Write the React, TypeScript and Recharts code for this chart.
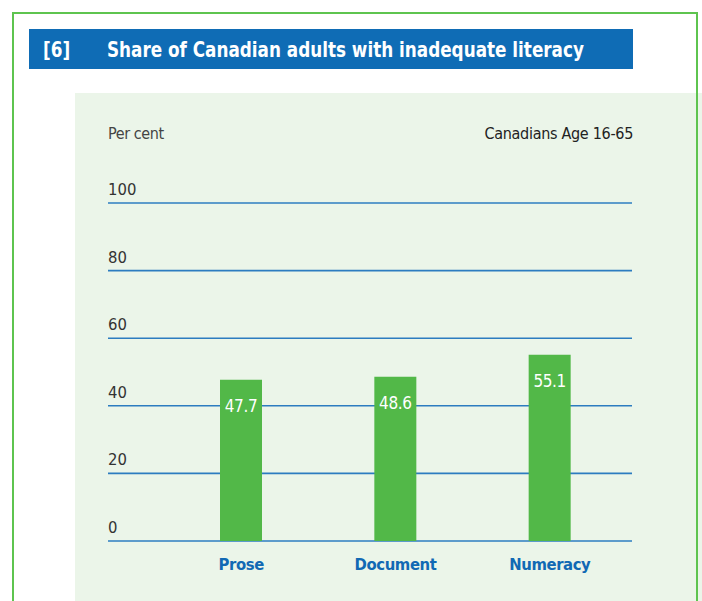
import { BarChart, Bar, XAxis, YAxis, CartesianGrid, LabelList } from 'recharts';

const categories = ['Prose', 'Document', 'Numeracy'];
const shares = [47.7, 48.6, 55.1];
const yTicks = [0, 20, 40, 60, 80, 100];

const data = categories.map((name, i) => ({ name, value: shares[i] }));

const FONT = '"Liberation Sans Narrow", "DejaVu Sans Condensed", "Liberation Sans", sans-serif';
const BLUE = '#1169b4';
const GREEN = '#52b848';
const PLOT_LEFT = 108;

// y-axis labels sit above the grid line, left aligned with it
const YTick = (props: any) => {
  const { y, payload } = props;
  return (
    <text x={PLOT_LEFT} y={y - 8} fill="#333" fontSize={16.5} fontFamily={FONT} textAnchor="start">
      {payload.value}
    </text>
  );
};

const XTick = (props: any) => {
  const { x, y, payload } = props;
  return (
    <text
      x={x}
      y={y + 16}
      fill={BLUE}
      fontSize={16.5}
      fontWeight="bold"
      fontFamily={FONT}
      letterSpacing={-0.4}
      textAnchor="middle"
      dominantBaseline="middle"
    >
      {payload.value}
    </text>
  );
};

const ValueLabel = (props: any) => {
  const { x, y, width, value } = props;
  return (
    <text
      x={x + width / 2}
      y={y + 27}
      fill="#fff"
      fontSize={17}
      fontFamily={FONT}
      letterSpacing={-0.4}
      textAnchor="middle"
      dominantBaseline="middle"
    >
      {value}
    </text>
  );
};

export default function App() {
  return (
    <div style={{ position: 'absolute', left: 0, top: 0, width: 702, height: 601, background: '#fff', overflow: 'hidden', fontFamily: FONT }}>
      {/* light green panel */}
      <div style={{ position: 'absolute', left: 75, top: 93, width: 627, height: 520, background: '#ebf5e9' }} />
      {/* outer green frame */}
      <div style={{ position: 'absolute', left: 12, top: 12, width: 686, height: 620, border: '2px solid #5ec44f', boxSizing: 'border-box' }} />
      {/* title bar */}
      <div style={{ position: 'absolute', left: 29, top: 29, width: 604, height: 40, background: '#0f6cb5', color: '#fff', fontWeight: 'bold', fontSize: 21.5, whiteSpace: 'nowrap' }}>
        <span style={{ position: 'absolute', left: 14, top: 8, display: 'inline-block', transform: 'scaleX(0.87)', transformOrigin: 'left' }}>[6]</span>
        <span style={{ position: 'absolute', left: 78, top: 8, display: 'inline-block', transform: 'scaleX(0.87)', transformOrigin: 'left' }}>
          Share of Canadian adults with inadequate literacy
        </span>
      </div>
      <div style={{ position: 'absolute', left: 108, top: 124, fontSize: 16, color: '#444', letterSpacing: -0.4, whiteSpace: 'nowrap' }}>Per cent</div>
      <div style={{ position: 'absolute', right: 702 - 633, top: 124, fontSize: 16, color: '#222', letterSpacing: -0.3, whiteSpace: 'nowrap' }}>Canadians Age 16-65</div>

      <div style={{ position: 'absolute', left: 0, top: 0 }}>
        <BarChart width={702} height={601} data={data} margin={{ top: 203, right: 70, bottom: 0, left: 0 }}>
          <CartesianGrid vertical={false} stroke="#2c7cc0" strokeWidth={1.6} />
          <XAxis
            dataKey="name"
            axisLine={false}
            tickLine={false}
            height={60}
            padding={{ left: 56, right: 5 }}
            tick={<XTick />}
            interval={0}
          />
          <YAxis
            width={108}
            domain={[0, 100]}
            ticks={yTicks}
            axisLine={false}
            tickLine={false}
            tick={<YTick />}
          />
          <Bar dataKey="value" fill={GREEN} barSize={42} isAnimationActive={false}>
            <LabelList dataKey="value" content={<ValueLabel />} />
          </Bar>
        </BarChart>
      </div>
    </div>
  );
}
